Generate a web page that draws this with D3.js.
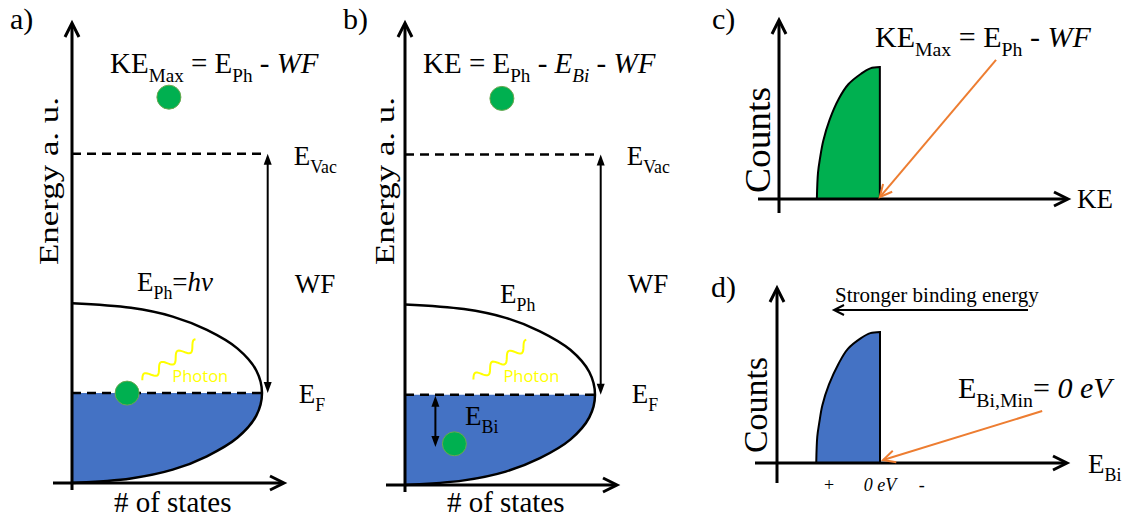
<!DOCTYPE html>
<html>
<head>
<meta charset="utf-8">
<script src="https://cdn.jsdelivr.net/npm/d3@7"></script>
<style>
body { margin: 0; background: #fff; }
svg { display: block; }
</style>
</head>
<body>
<svg id="chart" width="1138" height="527" font-family="Liberation Serif"></svg>
<script>
// density of states for panels a) and b), energy in a.u.
var dosEnergy = [0, 0.1, 0.29, 0.58, 0.98, 1.46, 1.95, 2.44, 2.92, 3.32, 3.61, 3.8, 3.9];
var dosStates = [0, 0.31, 0.53, 0.71, 0.87, 0.97, 1, 0.97, 0.87, 0.71, 0.53, 0.31, 0];
var fermiLevel = 1.95;
var vacuumLevel = 7.14;

// electrons (states, energy)
var electronsA = [[0.29, 1.95], [0.51, 8.37]];
var electronsB = [[0.26, 0.89], [0.51, 8.35]];
// photon squiggle start / end (states, energy)
var photonA = [[0.37, 2.23], [0.66, 3.04]];
var photonB = [[0.36, 2.28], [0.65, 3.06]];
var bindingArrow = [0.16, 0.82];

// c) kinetic energy spectrum
var keValues = [1.31, 1.35, 1.42, 1.53, 1.75, 2.07, 2.4, 2.84, 3.16, 3.49, 3.49];
var keCounts = [0, 1.47, 2.28, 3.24, 4.42, 5.6, 6.41, 7.0, 7.3, 7.37, 0];
var keArrow = [[7.51, 7.77], [3.49, 0.11]];

// d) binding energy spectrum
var biValues = [1.25, 1.23, 1.19, 1.13, 1.0, 0.81, 0.63, 0.38, 0.19, 0, 0];
var biCounts = [0, 1.5, 2.32, 3.3, 4.49, 5.69, 6.52, 7.12, 7.42, 7.49, 0];
var biArrow = [[-3.18, 2.97], [-0.06, 0.17]];
var biTickLabels = ["+", "0 eV", "-"];
var biTickValues = [1, 0, -0.82];

var svg = d3.select("#chart");
var SERIF = "Liberation Serif";
var BLUE = "#4472C4", GREEN = "#00B050", ORANGE = "#ED7D31", YELLOW = "#FFFF00";

function chevron(g, x, y, ang, len, half, color, w) {
    g.append("path")
        .attr("d", "M" + (-len) + "," + (-half) + "L0,0L" + (-len) + "," + half)
        .attr("transform", "translate(" + x + "," + y + ") rotate(" + ang + ")")
        .attr("fill", "none")
        .attr("stroke", color)
        .attr("stroke-width", w);
}

function triangle(g, x, y, ang) {
    g.append("path")
        .attr("d", "M-11,-4L0,0L-11,4Z")
        .attr("transform", "translate(" + x + "," + y + ") rotate(" + ang + ")")
        .attr("fill", "#000");
}

function line(g, x1, y1, x2, y2, w, color) {
    return g.append("line")
        .attr("x1", x1).attr("y1", y1).attr("x2", x2).attr("y2", y2)
        .attr("stroke", color || "#000")
        .attr("stroke-width", w);
}

function label(g, x, y, str, size) {
    return g.append("text")
        .attr("x", x).attr("y", y)
        .attr("font-family", SERIF)
        .attr("font-size", size)
        .text(str);
}

// parts: [text, flags]  flags: s = subscript, i = italic
function rich(g, x, y, parts, size, anchor) {
    var t = g.append("text")
        .attr("x", x).attr("y", y)
        .attr("font-family", SERIF)
        .attr("font-size", size)
        .attr("xml:space", "preserve")
        .attr("text-anchor", anchor || "start");
    var shift = 0;
    parts.forEach(function (p) {
        var f = p[1] || "";
        var sub = f.indexOf("s") >= 0;
        var want = sub ? size * 0.3 : 0;
        var s = t.append("tspan").text(p[0]).attr("dy", want - shift);
        shift = want;
        if (sub) s.attr("font-size", size * 0.66);
        if (f.indexOf("i") >= 0) s.attr("font-style", "italic");
    });
    return t;
}

function rotated(g, x, y, str, size, len) {
    return g.append("text")
        .attr("transform", "translate(" + x + "," + y + ") rotate(-90)")
        .attr("text-anchor", "middle")
        .attr("font-family", SERIF)
        .attr("font-size", size)
        .attr("textLength", len)
        .attr("lengthAdjust", "spacingAndGlyphs")
        .text(str);
}

function electron(g, cx, cy) {
    g.append("circle")
        .attr("cx", cx).attr("cy", cy).attr("r", 12)
        .attr("fill", GREEN)
        .attr("stroke", "#6aa84f")
        .attr("stroke-width", 1);
}

function photon(g, p0, p1) {
    var dx = p1[0] - p0[0], dy = p1[1] - p0[1];
    var L = Math.sqrt(dx * dx + dy * dy), ang = Math.atan2(dy, dx) * 180 / Math.PI;
    var pts = d3.range(0, L + 0.5, 1).map(function (t) {
        return [t, -4.5 * Math.sin(2 * Math.PI * 3.3 * t / L)];
    });
    g.append("path")
        .attr("d", d3.line()(pts))
        .attr("transform", "translate(" + p0[0] + "," + p0[1] + ") rotate(" + ang + ")")
        .attr("fill", "none")
        .attr("stroke", YELLOW)
        .attr("stroke-width", 2);
}

function dosPanel(cfg) {
    var g = svg.append("g");
    var y = d3.scaleLinear().domain([0, 10]).range([cfg.bottom, 22]);
    var x = d3.scaleLinear().domain([0, 1]).range([cfg.left, cfg.left + 190]);
    var pts = dosEnergy.map(function (e, i) { return {e: e, s: dosStates[i]}; });
    var filled = pts.filter(function (d) { return d.e <= fermiLevel; });

    g.append("path").datum(filled)
        .attr("d", d3.area()
            .x0(x(0))
            .x1(function (d) { return x(d.s); })
            .y(function (d) { return y(d.e); })
            .curve(d3.curveCatmullRom))
        .attr("fill", BLUE);

    g.append("path").datum(pts)
        .attr("d", d3.line()
            .x(function (d) { return x(d.s); })
            .y(function (d) { return y(d.e); })
            .curve(d3.curveCatmullRom))
        .attr("fill", "none")
        .attr("stroke", "#000")
        .attr("stroke-width", 2.5);

    // Fermi and vacuum levels
    line(g, x(0), y(fermiLevel), x(1), y(fermiLevel), 2.5).attr("stroke-dasharray", "9,6");
    line(g, x(0), y(vacuumLevel), x(1.02), y(vacuumLevel), 2.5).attr("stroke-dasharray", "9,6");

    // work function arrow
    line(g, x(1.03), y(vacuumLevel) + 6, x(1.03), y(fermiLevel) - 6, 2);
    triangle(g, x(1.03), y(vacuumLevel), -90);
    triangle(g, x(1.03), y(fermiLevel), 90);

    // axes
    line(g, x(0), cfg.bottom + 7, x(0), 24, 3);
    chevron(g, x(0), 23, -90, 14, 7, "#000", 3);
    line(g, x(0) - 19, cfg.bottom, x(0) + 210, cfg.bottom, 3);
    chevron(g, x(0) + 212, cfg.bottom, 0, 14, 7, "#000", 3);

    photon(g, [x(cfg.photon[0][0]), y(cfg.photon[0][1])], [x(cfg.photon[1][0]), y(cfg.photon[1][1])]);
    g.append("text")
        .attr("x", x(cfg.photon[0][0]) + 30)
        .attr("y", 382)
        .attr("font-family", "Open Sans")
        .attr("font-size", 16.5)
        .attr("fill", YELLOW)
        .text("Photon");

    cfg.electrons.forEach(function (d) { electron(g, x(d[0]), y(d[1])); });

    // labels
    rotated(g, cfg.labelX, 181, "Energy a. u.", 27, 168);
    label(g, x(0.53), 512, "# of states", 29).attr("text-anchor", "middle");
    label(g, cfg.left - 62, 29, cfg.tag, 30);

    rich(g, x(1.03) + 26, 165, [["E"], ["Vac", "s"]], 27);
    label(g, x(1.03) + 27, 293, "WF", 27);
    rich(g, x(1.03) + 31, 403, [["E"], ["F", "s"]], 27);
    return {g: g, x: x, y: y};
}

// a)
var pa = dosPanel({left: 72, bottom: 483, labelX: 58, tag: "a)", electrons: electronsA, photon: photonA});
rich(pa.g, 110, 73, [["KE"], ["Max", "s"], [" = E"], ["Ph", "s"], [" - "], ["WF", "i"]], 29);
rich(pa.g, 137, 291, [["E"], ["Ph", "s"], ["="], ["hν", "i"]], 27);

// b)
var pb = dosPanel({left: 405, bottom: 485, labelX: 394, tag: "b)", electrons: electronsB, photon: photonB});
rich(pb.g, 423, 73, [["KE = E"], ["Ph", "s"], [" - "], ["E", "i"], ["Bi", "si"], [" - "], ["WF", "i"]], 29);
rich(pb.g, 500, 303, [["E"], ["Ph", "s"]], 27);
rich(pb.g, 465, 425, [["E"], ["Bi", "s"]], 27);
line(pb.g, pb.x(bindingArrow[0]), pb.y(fermiLevel) + 8, pb.x(bindingArrow[0]), pb.y(bindingArrow[1]) - 8, 2);
triangle(pb.g, pb.x(bindingArrow[0]), pb.y(fermiLevel) + 1, -90);
triangle(pb.g, pb.x(bindingArrow[0]), pb.y(bindingArrow[1]), 90);

// c) kinetic energy spectrum
(function () {
    var g = svg.append("g");
    var x = d3.scaleLinear().domain([0, 10]).range([779, 1068]);
    var y = d3.scaleLinear().domain([0, 10]).range([199, 20]);
    var pts = keValues.map(function (v, i) { return [x(v), y(keCounts[i])]; });
    g.append("path")
        .attr("d", d3.line().curve(d3.curveCatmullRom)(pts.slice(0, -1)) + "L" + pts[pts.length - 1].join(",") + "Z")
        .attr("fill", GREEN)
        .attr("stroke", "#000")
        .attr("stroke-width", 2);

    line(g, x(0), 213, x(0), y(10) + 1, 3);
    chevron(g, x(0), y(10), -90, 14, 7, "#000", 3);
    line(g, 758, y(0), x(10) - 2, y(0), 3);
    chevron(g, x(10), y(0), 0, 14, 7, "#000", 3);

    var a0 = [x(keArrow[0][0]), y(keArrow[0][1])], a1 = [x(keArrow[1][0]), y(keArrow[1][1])];
    line(g, a0[0], a0[1], a1[0], a1[1], 2, ORANGE);
    chevron(g, a1[0], a1[1], Math.atan2(a1[1] - a0[1], a1[0] - a0[0]) * 180 / Math.PI, 12, 6, ORANGE, 2);

    label(g, 712, 29, "c)", 30);
    rotated(g, 770, 140, "Counts", 36, 106);
    label(g, 1077, 208, "KE", 27);
    rich(g, 875, 47, [["KE"], ["Max", "s"], [" = E"], ["Ph", "s"], [" - "], ["WF", "i"]], 30);
})();

// d) binding energy spectrum
(function () {
    var g = svg.append("g");
    var x = d3.scaleLinear().domain([1, 0]).range([829, 880]);
    var y = d3.scaleLinear().domain([0, 10]).range([463, 288]);
    var pts = biValues.map(function (v, i) { return [x(v), y(biCounts[i])]; });
    g.append("path")
        .attr("d", d3.line().curve(d3.curveCatmullRom)(pts.slice(0, -1)) + "L" + pts[pts.length - 1].join(",") + "Z")
        .attr("fill", BLUE)
        .attr("stroke", "#000")
        .attr("stroke-width", 2);

    line(g, 777, 483, 777, y(10) + 1, 3);
    chevron(g, 777, y(10), -90, 14, 7, "#000", 3);
    line(g, 755, y(0), 1065, y(0), 3);
    chevron(g, 1067, y(0), 0, 14, 7, "#000", 3);

    var a0 = [x(biArrow[0][0]), y(biArrow[0][1])], a1 = [x(biArrow[1][0]), y(biArrow[1][1])];
    line(g, a0[0], a0[1], a1[0], a1[1], 2, ORANGE);
    chevron(g, a1[0], a1[1], Math.atan2(a1[1] - a0[1], a1[0] - a0[0]) * 180 / Math.PI, 12, 6, ORANGE, 2);

    // stronger binding energy arrow
    line(g, 1028, 310, 836, 310, 2);
    chevron(g, 834, 310, 180, 10, 5, "#000", 2);
    label(g, 835, 302, "Stronger binding energy", 21);

    g.selectAll("text.tick")
        .data(biTickLabels)
        .enter().append("text")
        .attr("class", "tick")
        .attr("x", function (d, i) { return x(biTickValues[i]); })
        .attr("y", 491)
        .attr("text-anchor", "middle")
        .attr("font-family", SERIF)
        .attr("font-size", 18)
        .attr("font-style", function (d) { return d === "0 eV" ? "italic" : "normal"; })
        .text(String);

    label(g, 711, 297, "d)", 30);
    rotated(g, 767, 405, "Counts", 34, 96);
    rich(g, 1088, 473, [["E"], ["Bi", "s"]], 27);
    rich(g, 958, 398, [["E"], ["Bi,Min", "s"], ["= "], ["0 eV", "i"]], 30);
})();
</script>
</body>
</html>
